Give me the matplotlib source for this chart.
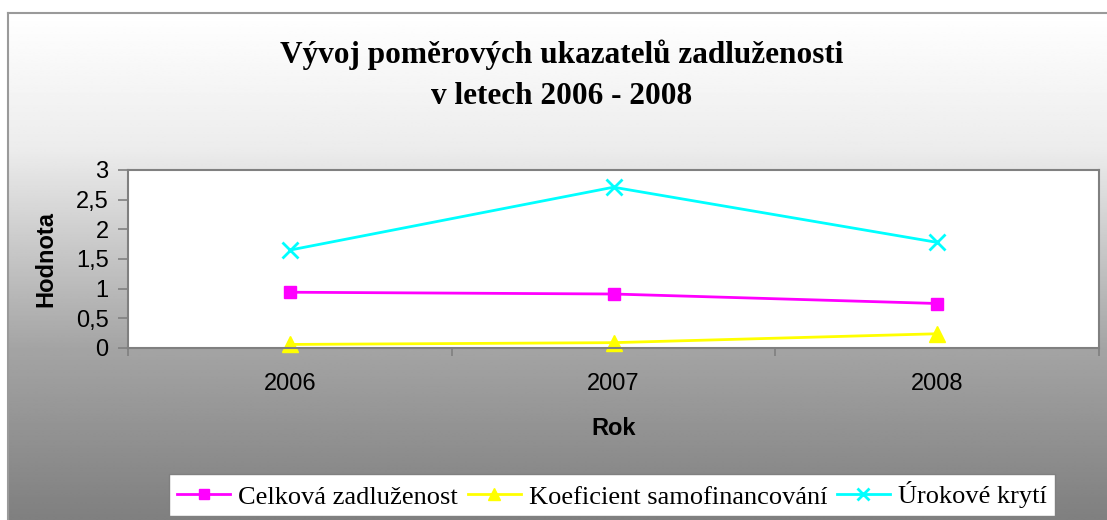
import numpy as np
import matplotlib.pyplot as plt

roky = ["2006", "2007", "2008"]
celkova = [0.94, 0.91, 0.75]
samofin = [0.06, 0.09, 0.24]
urokove = [1.65, 2.71, 1.78]

W, H = 1107, 520
fig = plt.figure(figsize=(W / 100, H / 100), dpi=100)
fig.patch.set_facecolor("white")

# gradient background inside the chart frame
bg = fig.add_axes([8 / W, 0, 1 - 8 / W, 1 - 13 / H], zorder=-10)
rows = np.linspace(0, 1, 300)
stops_y = [0.0, 0.27, 0.66, 1.0]
stops_v = [1.0, 0.925, 0.645, 0.5]
vals = np.interp(rows, stops_y, stops_v)
bg.imshow(np.repeat(vals[:, None], 2, axis=1), cmap="gray", vmin=0, vmax=1,
          aspect="auto", extent=[0, 1, 1, 0], interpolation="bilinear")
bg.set_xlim(0, 1)
bg.set_ylim(1, 0)
bg.set_xticks([])
bg.set_yticks([])
for s in ["top", "left"]:
    bg.spines[s].set_color("#9a9a9a")
    bg.spines[s].set_linewidth(1.5)
for s in ["right", "bottom"]:
    bg.spines[s].set_visible(False)

ax = fig.add_axes([128 / W, 1 - 348 / H, (1099 - 128) / W, (348 - 170) / H])
ax.set_facecolor("white")
x = np.arange(len(roky))

ax.plot(x, celkova, color="#FF00FF", lw=2, marker="s", ms=9, label="Celková zadluženost", clip_on=False)
ax.plot(x, samofin, color="#FFFF00", lw=2, marker="^", ms=11, label="Koeficient samofinancování", clip_on=False)
ax.plot(x, urokove, color="#00FFFF", lw=2, marker="x", ms=11, mew=2, label="Úrokové krytí", clip_on=False)

ax.set_xlim(-0.5, 2.5)
ax.set_ylim(0, 3)
ax.set_yticks(np.arange(0, 3.01, 0.5))
ax.set_yticklabels(["0", "0,5", "1", "1,5", "2", "2,5", "3"])
ax.set_xticks(x)
ax.set_xticklabels(roky)
ax.set_xticks([-0.5, 0.5, 1.5, 2.5], minor=True)
ax.tick_params(axis="x", which="major", length=0, pad=18)
ax.tick_params(axis="x", which="minor", length=6, width=1.2, color="#808080")
ax.tick_params(axis="y", length=7, width=1.2, color="#808080", pad=7)
for lab in ax.get_xticklabels() + ax.get_yticklabels():
    lab.set_fontfamily("Liberation Sans")
    lab.set_fontsize(17)
for s in ax.spines.values():
    s.set_color("#808080")
    s.set_linewidth(1.5)

ax.set_xlabel("Rok", fontfamily="Liberation Sans", fontweight="bold", fontsize=17, labelpad=16)
ax.set_ylabel("Hodnota", fontfamily="Liberation Sans", fontweight="bold", fontsize=17, labelpad=13)

fig.text(562 / W, 1 - 55 / H, "Vývoj poměrových ukazatelů zadluženosti",
         ha="center", va="center", fontfamily="Liberation Serif", fontweight="bold", fontsize=22.5)
fig.text(562 / W, 1 - 97 / H, "v letech 2006 - 2008",
         ha="center", va="center", fontfamily="Liberation Serif", fontweight="bold", fontsize=22.5)

leg = fig.legend(loc="center", bbox_to_anchor=(612 / W, 1 - 495 / H), ncol=3,
                 prop={"family": "Liberation Serif", "size": 19}, frameon=True,
                 fancybox=False, framealpha=1, edgecolor="#808080",
                 handlelength=2.0, handletextpad=0.3, columnspacing=0.38,
                 borderpad=0.3, borderaxespad=0, markerscale=0.75)
leg.get_frame().set_linewidth(1)

fig.savefig("out.png", dpi=100)
